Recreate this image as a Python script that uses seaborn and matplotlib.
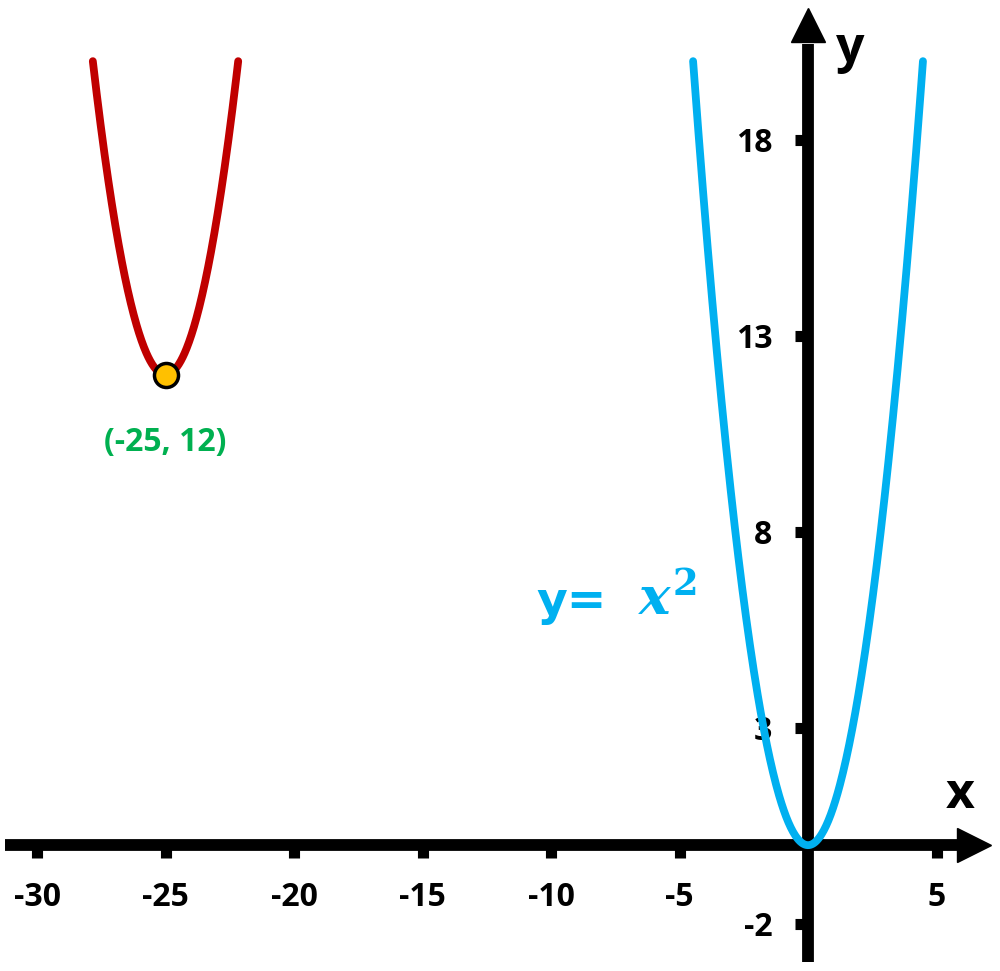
import numpy as np
import pandas as pd
import matplotlib.pyplot as plt
import seaborn as sns

# vertices of the two parabolas and where they are cut off
blue_vertex = (0, 0)
red_vertex = (-25, 12)
curve_top = 20
point_label = "(-25, 12)"
curve_lhs = "y="
curve_rhs = r"$x^2$"

x_ticks = [-30, -25, -20, -15, -10, -5, 5]
y_ticks = [-2, 3, 8, 13, 18]

blue = "#00B0F0"
red = "#C00000"
green = "#00B050"
gold = "#FFC000"


def parabola(vertex, top, n=300):
    h, k = vertex
    half = np.sqrt(top - k)
    xs = np.linspace(h - half, h + half, n)
    return pd.DataFrame({"x": xs, "y": (xs - h) ** 2 + k})


sns.set_style("white")
plt.rcParams["font.family"] = ["Open Sans", "DejaVu Sans"]
plt.rcParams["text.color"] = "black"
plt.rcParams["axes.unicode_minus"] = False
plt.rcParams["mathtext.fontset"] = "custom"
plt.rcParams["mathtext.it"] = "DejaVu Serif:italic:bold"
plt.rcParams["mathtext.rm"] = "DejaVu Serif:bold"

fig = plt.figure(figsize=(10, 9.71), dpi=100)
ax = fig.add_axes([0, 0, 1, 1])
ax.set_xlim(-31.44, 7.47)
ax.set_ylim(-3.21, 21.56)

# curves
sns.lineplot(data=parabola(blue_vertex, curve_top), x="x", y="y", color=blue,
             lw=5.6, ax=ax, zorder=4)
sns.lineplot(data=parabola(red_vertex, curve_top), x="x", y="y", color=red,
             lw=5.6, ax=ax, zorder=4)
sns.scatterplot(x=[red_vertex[0]], y=[red_vertex[1]], color=gold, s=300,
                edgecolor="black", linewidth=2.5, ax=ax, zorder=5)

# axes through the origin with arrow heads
for s in ["top", "right"]:
    ax.spines[s].set_visible(False)
ax.spines["left"].set_position(("data", 0))
ax.spines["bottom"].set_position(("data", 0))
ax.spines["left"].set_color("none")
ax.spines["bottom"].set_color("none")

ax.axhline(0, xmin=0.005, xmax=0.96, color="black", lw=8.5, zorder=3,
           solid_capstyle="butt")
ax.axvline(0, ymin=0.009, ymax=0.955, color="black", lw=8.5, zorder=3,
           solid_capstyle="butt")
ax.plot([0.974], [0], marker=">", ms=24, color="black",
        transform=ax.get_yaxis_transform(), clip_on=False, zorder=3)
ax.plot([0], [0.974], marker="^", ms=24, color="black",
        transform=ax.get_xaxis_transform(), clip_on=False, zorder=3)

ax.set_xticks(x_ticks)
ax.set_yticks(y_ticks)
ax.tick_params(bottom=True, left=True, direction="out", length=9.5, width=8,
               color="black", labelcolor="black", labelsize=23, pad=16)
for lab in ax.get_xticklabels() + ax.get_yticklabels():
    lab.set_fontweight("bold")
ax.set_xlabel("")
ax.set_ylabel("")

ax.text(0.96, 0.181, "x", transform=ax.transAxes, ha="center", va="center",
        fontsize=36, fontweight="bold", color="black")
ax.text(0.85, 0.95, "y", transform=ax.transAxes, ha="center", va="center",
        fontsize=36, fontweight="bold", color="black")

ax.text(red_vertex[0], 10.26, point_label, ha="center", va="center",
        fontsize=23, fontweight="bold", color=green)
ax.text(-10.55, 5.87, curve_lhs, ha="left", va="baseline", family=["DejaVu Sans"],
        fontsize=34, fontweight="bold", color=blue)
ax.text(-6.6, 5.87, curve_rhs, ha="left", va="baseline",
        fontsize=38, color=blue)

fig.savefig("out.png", dpi=100)
